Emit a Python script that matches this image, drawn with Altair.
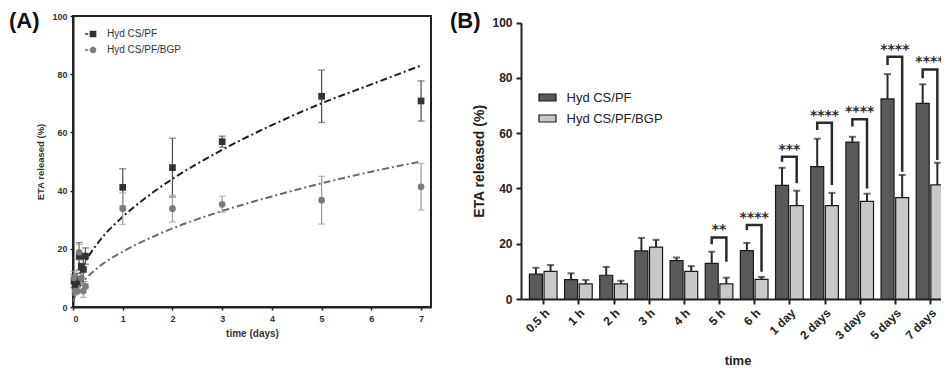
import altair as alt
import pandas as pd

# ---------------- data ----------------
series = ["Hyd CS/PF", "Hyd CS/PF/BGP"]
time_labels = ["0.5 h", "1 h", "2 h", "3 h", "4 h", "5 h", "6 h",
               "1 day", "2 days", "3 days", "5 days", "7 days"]
time_days = [0.0208, 0.0417, 0.0833, 0.125, 0.1667, 0.2083, 0.25, 1, 2, 3, 5, 7]
pf_mean = [9.0, 7.0, 8.6, 17.4, 13.9, 12.9, 17.5, 41.1, 47.9, 56.8, 72.4, 70.8]
pf_err = [2.3, 2.3, 3.0, 4.7, 1.1, 4.2, 2.8, 6.4, 10.1, 1.9, 9.0, 6.9]
bgp_mean = [10.0, 5.5, 5.5, 18.8, 10.0, 5.5, 7.1, 33.8, 33.8, 35.3, 36.7, 41.3]
bgp_err = [2.3, 1.4, 1.1, 2.6, 1.9, 2.2, 0.9, 5.4, 4.6, 2.8, 8.2, 8.0]

fit_t = [0.01, 0.05, 0.1, 0.25, 0.5, 1, 1.5, 2, 3, 4, 5, 6, 7]
pf_fit = [3.1, 7.0, 9.8, 15.5, 22.0, 31.0, 38.0, 44.0, 54.0, 62.5, 70.0, 76.5, 83.0]
bgp_fit = [1.9, 4.3, 6.0, 9.5, 13.5, 19.0, 23.3, 27.0, 33.0, 38.0, 42.5, 46.5, 50.0]

sig_index = [5, 6, 7, 8, 9, 10, 11]
sig_top = [22.3, 26.8, 51.5, 63.8, 65.1, 87.7, 83.1]
sig_left = [19.8, 25.0, 49.7, 61.2, 62.4, 84.7, 79.9]
sig_right = [13.5, 9.9, 41.9, 41.3, 40.0, 46.1, 50.3]
sig_stars = ["**", "****", "***", "****", "****", "****", "****"]

panel_labels = ["(A)", "(B)"]

# ---------------- tables ----------------
rowsA = []
for s, m, e in ((series[0], pf_mean, pf_err), (series[1], bgp_mean, bgp_err)):
    for t, mv, ev in zip(time_days, m, e):
        rowsA.append({"t": t, "mean": mv, "lo": mv - ev, "hi": mv + ev, "sa": s})
dfA = pd.DataFrame(rowsA)

rowsF = []
for s, f in ((series[0], pf_fit), (series[1], bgp_fit)):
    for t, v in zip(fit_t, f):
        rowsF.append({"t": t, "v": v, "sa": s})
dfF = pd.DataFrame(rowsF)

OFF = 7.5 / 36.0
rowsB = []
for k, (s, m, e) in enumerate(((series[0], pf_mean, pf_err), (series[1], bgp_mean, bgp_err))):
    for i, (mv, ev) in enumerate(zip(m, e)):
        rowsB.append({"pos": i + (-OFF if k == 0 else OFF), "mean": mv, "hi": mv + ev, "sb": s})
dfB = pd.DataFrame(rowsB)

rowsK = []
for n, (i, top, lb, rb) in enumerate(zip(sig_index, sig_top, sig_left, sig_right)):
    pts = [(i - OFF, lb), (i - OFF, top), (i + OFF, top), (i + OFF, rb)]
    for o, (x, y) in enumerate(pts):
        rowsK.append({"pos": x, "by": y, "k": n, "o": o})
dfK = pd.DataFrame(rowsK)
dfS = pd.DataFrame({"pos": sig_index, "sy": sig_top, "lab": sig_stars})

# ---------------- panel A ----------------
INK = "#222222"
xA_scale = alt.Scale(domain=[0, 7.2], nice=False, zero=False)
xA_axis = alt.Axis(values=list(range(8)), title="time (days)", grid=False,
                   labelFontSize=9, labelFontWeight="bold", labelColor="#333",
                   titleFontSize=10, titleFontWeight="bold", titleColor="#333",
                   tickSize=3, tickWidth=1.5, tickColor=INK, domainColor=INK,
                   domainWidth=2, labelPadding=4, titlePadding=5, labelOverlap=False)
xA = alt.X("t:Q", scale=xA_scale, axis=xA_axis)
yA_axis = alt.Axis(values=[0, 20, 40, 60, 80, 100], title="ETA released (%)", grid=False,
                   labelFontSize=9, labelFontWeight="bold", labelColor="#333",
                   titleFontSize=9.5, titleFontWeight="bold", titleColor="#333",
                   tickSize=3, tickWidth=1.5, tickColor=INK, domainColor=INK,
                   domainWidth=2, labelPadding=3, titlePadding=6, labelOverlap=False)
yA_scale = alt.Scale(domain=[0, 100], nice=False)

line_cols = {series[0]: "#1e1e1e", series[1]: "#6a6a6a"}
err_cols = {series[0]: "#555555", series[1]: "#a0a0a0"}
marker_cols = ["#333333", "#7b7b7b"]

layersA = []
for s in series:
    layersA.append(
        alt.Chart(dfF).transform_filter(alt.datum.sa == s).mark_line(
            strokeWidth=2, strokeDash=[7, 3, 2, 3], interpolate="monotone", color=line_cols[s]
        ).encode(x=xA, y=alt.Y("v:Q", scale=yA_scale, axis=yA_axis))
    )
for s in series:
    base = alt.Chart(dfA).transform_filter(alt.datum.sa == s)
    layersA.append(base.mark_rule(strokeWidth=1.3, color=err_cols[s]).encode(
        x=xA, y=alt.Y("lo:Q", scale=yA_scale, axis=yA_axis), y2="hi:Q"))
    layersA.append(base.mark_tick(orient="horizontal", size=7, thickness=1.3, color=err_cols[s]).encode(
        x=xA, y=alt.Y("lo:Q", scale=yA_scale, axis=yA_axis)))
    layersA.append(base.mark_tick(orient="horizontal", size=7, thickness=1.3, color=err_cols[s]).encode(
        x=xA, y=alt.Y("hi:Q", scale=yA_scale, axis=yA_axis)))

# data points
layersA.append(
    alt.Chart(dfA).mark_point(filled=True, opacity=1, size=45).encode(
        x=xA, y=alt.Y("mean:Q", scale=yA_scale, axis=yA_axis),
        color=alt.Color("sa:N", scale=alt.Scale(domain=series, range=marker_cols), legend=None),
        shape=alt.Shape("sa:N", scale=alt.Scale(domain=series, range=["square", "circle"]), legend=None),
    )
)
# legend only (no marks drawn): marker preceded by a short dash, as in the reference
sq_path = "M-2.4,-0.2H-1.4V0.2H-2.4Z M-1,-1H1V1H-1Z"
ci_path = "M-2.4,-0.2H-1.4V0.2H-2.4Z M1,0A1,1,0,1,1,-1,0A1,1,0,1,1,1,0Z"
layersA.append(
    alt.Chart(dfA).transform_filter("false").mark_point(filled=True, opacity=1, size=45).encode(
        x=xA, y=alt.Y("mean:Q", scale=yA_scale, axis=yA_axis),
        color=alt.Color("sa:N", scale=alt.Scale(domain=series, range=marker_cols),
                        legend=alt.Legend(orient="none", legendX=15, legendY=13, title=None,
                                          labelFontSize=10, labelColor="#333", labelFont="Liberation Sans",
                                          symbolSize=45, rowPadding=6, labelOffset=9, padding=0)),
        shape=alt.Shape("sa:N", scale=alt.Scale(domain=series, range=[sq_path, ci_path])),
    )
)
layersA.append(
    alt.Chart(pd.DataFrame({"p": [panel_labels[0]]})).mark_text(
        font="Liberation Sans", fontWeight="bold", fontSize=22, align="left", baseline="alphabetic", color="#111"
    ).encode(text="p:N", x=alt.value(-64), y=alt.value(12))
)

chartA = alt.layer(*layersA).resolve_scale(shape="independent", color="independent").properties(
    width=358, height=291, view=alt.ViewBackground(stroke=INK, strokeWidth=2))

# ---------------- panel B ----------------
label_expr = "[" + ",".join("'" + t + "'" for t in time_labels) + "][datum.value]"
xB_scale = alt.Scale(domain=[-0.49, 11.54], nice=False, zero=False)
xB_axis = alt.Axis(values=list(range(12)), labelExpr=label_expr, labelAngle=-45,
                   labelOverlap=False, title="time", grid=False,
                   labelFontSize=12, labelFontWeight="bold", labelColor=INK,
                   titleFontSize=13, titleFontWeight="bold", titleColor=INK,
                   tickSize=5, tickWidth=2, tickColor=INK, domainColor=INK,
                   domainWidth=2, labelPadding=3, titlePadding=13)
xB = alt.X("pos:Q", scale=xB_scale, axis=xB_axis)
yB_scale = alt.Scale(domain=[0, 100], range=[283, 6.7], nice=False)
yB_axis = alt.Axis(values=[0, 20, 40, 60, 80, 100], title="ETA released (%)", grid=False,
                   labelFontSize=12, labelFontWeight="bold", labelColor=INK,
                   titleFontSize=14, titleFontWeight="bold", titleColor=INK,
                   tickSize=5, tickWidth=2, tickColor=INK, domainColor=INK,
                   domainWidth=2, labelPadding=4, titlePadding=5, labelOverlap=False)

bars = alt.Chart(dfB).mark_bar(width=13, orient="vertical", stroke="#1a1a1a", strokeWidth=1.2).encode(
    x=xB, y=alt.Y("mean:Q", scale=yB_scale, axis=yB_axis, stack=None),
    color=alt.Color("sb:N", scale=alt.Scale(domain=series, range=["#5a5a5a", "#c8c8c8"]),
                    legend=alt.Legend(orient="none", legendX=17, legendY=72, title=None,
                                      labelFontSize=13, labelColor=INK, labelFont="Liberation Sans",
                                      symbolType="M-1,-0.41L1,-0.41L1,0.41L-1,0.41Z",
                                      symbolSize=289, symbolStrokeColor="#1a1a1a",
                                      symbolStrokeWidth=1.2, rowPadding=4, labelOffset=9.5,
                                      padding=0)),
)
err_rule = alt.Chart(dfB).mark_rule(strokeWidth=2, color="#2a2a2a").encode(
    x=xB, y=alt.Y("mean:Q", scale=yB_scale, axis=yB_axis), y2="hi:Q")
err_cap = alt.Chart(dfB).mark_tick(orient="horizontal", size=7, thickness=2, color="#2a2a2a").encode(
    x=xB, y=alt.Y("hi:Q", scale=yB_scale, axis=yB_axis))
brackets = alt.Chart(dfK).mark_line(strokeWidth=2.5, color="#2a2a2a").encode(
    x=xB, y=alt.Y("by:Q", scale=yB_scale, axis=yB_axis),
    detail="k:N", order="o:Q")
stars = alt.Chart(dfS).mark_text(font="DejaVu Sans", fontWeight="bold", fontSize=14,
                                 baseline="alphabetic", dy=-3, color="#2a2a2a").encode(
    x=xB, y=alt.Y("sy:Q", scale=yB_scale, axis=yB_axis), text="lab:N")
titleB = alt.Chart(pd.DataFrame({"p": [panel_labels[1]]})).mark_text(
    font="Liberation Sans", fontWeight="bold", fontSize=22, align="left", baseline="alphabetic", color="#111"
).encode(text="p:N", x=alt.value(-71), y=alt.value(12))

chartB = alt.layer(bars, err_rule, err_cap, brackets, stars, titleB).properties(width=433, height=283)

chart = alt.hconcat(chartA, chartB, spacing=18).resolve_scale(
    color="independent", shape="independent", x="independent", y="independent"
).properties(
    padding={"left": 0, "top": 1, "right": -13, "bottom": 0}
).configure(font="Liberation Sans").configure_view(strokeWidth=0)

chart.save("out.html", embed_options={"renderer": "svg", "actions": False})
